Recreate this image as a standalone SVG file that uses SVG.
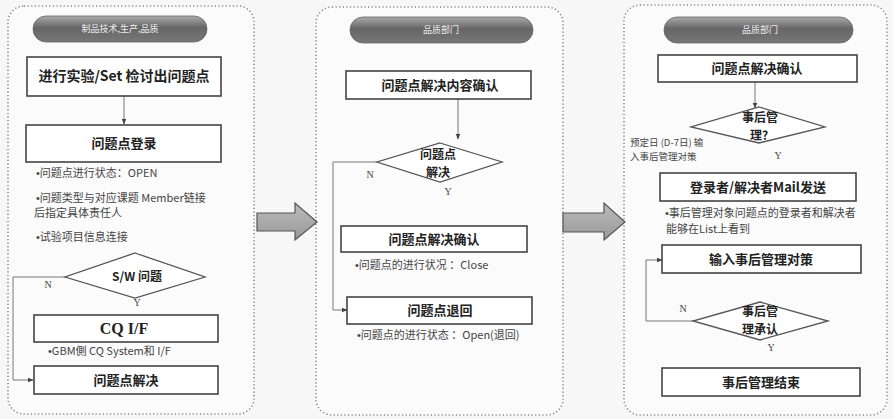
<svg xmlns="http://www.w3.org/2000/svg" width="893" height="419" viewBox="0 0 893 419">
<defs>
<style>
.panel{fill:#fbfbfb;stroke:#888;stroke-width:1.6;stroke-dasharray:1.2 2.4}
.pill{fill:url(#pillg);stroke:#666;stroke-width:0.8}
.ptxt{font-family:"Noto Sans CJK SC",sans-serif;font-size:9px;fill:#eee;text-anchor:middle}
.box{fill:#fff;stroke:#444;stroke-width:1.6}
.btxt{font-family:"Noto Sans CJK SC",sans-serif;font-size:13px;font-weight:bold;fill:#222;text-anchor:middle}
.dia{fill:#fff;stroke:#555;stroke-width:1.3}
.dtxt{font-family:"Noto Sans CJK SC",sans-serif;font-size:12px;font-weight:bold;fill:#222;text-anchor:middle}
.note{font-family:"Noto Sans CJK SC",sans-serif;font-size:11px;fill:#444}
.small{font-size:9.5px}
.bu{font-family:"Liberation Sans",sans-serif}
.lbl{font-family:"Liberation Serif",serif;font-size:10px;fill:#444;text-anchor:middle}
.con{fill:none;stroke:#777;stroke-width:1}
.big{fill:url(#arrg);stroke:#555;stroke-width:1.2}
</style>
<linearGradient id="pillg" x1="0" y1="0" x2="0" y2="1">
<stop offset="0" stop-color="#aaa"/>
<stop offset="0.45" stop-color="#666"/>
<stop offset="1" stop-color="#777"/>
</linearGradient>
<linearGradient id="arrg" x1="0" y1="0" x2="0" y2="1">
<stop offset="0" stop-color="#bbb"/>
<stop offset="1" stop-color="#999"/>
</linearGradient>
<marker id="ah" viewBox="0 0 10 10" refX="9" refY="5" markerWidth="6" markerHeight="6" orient="auto">
<path d="M0,1 L10,5 L0,9 z" fill="#444"/>
</marker>
</defs>
<rect x="0" y="0" width="893" height="419" fill="#f7f7f7"/>

<g id="panel1">
<rect class="panel" x="8" y="6" width="246" height="408" rx="16"/>
<rect class="pill" x="33" y="16" width="174" height="26" rx="13"/>
<text class="ptxt" x="120" y="32">制品技术,生产,品质</text>
</g>
<g id="panel2">
<rect class="panel" x="316" y="7" width="247" height="408" rx="16"/>
<rect class="pill" x="350" y="17" width="183" height="26" rx="13"/>
<text class="ptxt" x="441" y="33">品质部门</text>
</g>
<g id="panel3">
<rect class="panel" x="624" y="5" width="263" height="410" rx="16"/>
<rect class="pill" x="664" y="17" width="189" height="26" rx="13"/>
<text class="ptxt" x="760" y="33">品质部门</text>
</g>

<g id="bigarrows">
<path class="big" d="M257,213 L295,213 L295,203 L317,222 L295,240 L295,231 L257,231 z"/>
<path class="big" d="M563,213 L604,213 L604,203 L625,222 L604,240 L604,232 L563,232 z"/>
</g>

<g id="connectors">
<path class="con" d="M124,96 V124" marker-end="url(#ah)"/>
<path class="con" d="M65,277 H13 V380 H33" marker-end="url(#ah)"/>
<path class="con" d="M458,99 V139" marker-end="url(#ah)"/>
<path class="con" d="M377,162 H333 V310 H347" marker-end="url(#ah)"/>
<path class="con" d="M755,82 V108" marker-end="url(#ah)"/>
<path class="con" d="M693,321 H646 V260 H662" marker-end="url(#ah)"/>
</g>

<g id="n1">
<rect class="box" x="27" y="57" width="194" height="39"/>
<text class="btxt" x="124" y="81" style="font-size:14px">进行实验/Set 检讨出问题点</text>
</g>
<g id="n2">
<rect class="box" x="26" y="125" width="195" height="37"/>
<text class="btxt" x="124" y="148">问题点登录</text>
<text class="note" x="36" y="177"><tspan class="bu">•</tspan>问题点进行状态：OPEN</text>
<text class="note" x="36" y="202"><tspan class="bu">•</tspan>问题类型与对应课题 Member链接</text>
<text class="note" x="34" y="217">后指定具体责任人</text>
<text class="note" x="36" y="241"><tspan class="bu">•</tspan>试验项目信息连接</text>
</g>
<g id="n3">
<polygon class="dia" points="135,253 205,277 135,298 65,277"/>
<text class="dtxt" x="137" y="281">S/W 问题</text>
<text class="lbl" x="48" y="288">N</text>
<text class="lbl" x="137" y="306">Y</text>
</g>
<g id="n4">
<rect class="box" x="34" y="315" width="184" height="27"/>
<text class="btxt" x="124" y="334" style="font-family:'Liberation Serif','Noto Sans CJK SC',serif;font-size:16px">CQ I/F</text>
<text class="note" x="48" y="355"><tspan class="bu">•</tspan>GBM側 CQ System和 I/F</text>
</g>
<g id="n5">
<rect class="box" x="34" y="366" width="184" height="28"/>
<text class="btxt" x="126" y="385">问题点解决</text>
</g>

<g id="n6">
<rect class="box" x="346" y="71" width="185" height="28"/>
<text class="btxt" x="440" y="90">问题点解决内容确认</text>
</g>
<g id="n7">
<polygon class="dia" points="440,143 502,162 440,182 377,162"/>
<text class="dtxt" x="438" y="159">问题点</text>
<text class="dtxt" x="438" y="177">解决</text>
<text class="lbl" x="370" y="178">N</text>
<text class="lbl" x="448" y="195">Y</text>
</g>
<g id="n8">
<rect class="box" x="341" y="226" width="186" height="26"/>
<text class="btxt" x="434" y="244">问题点解决确认</text>
<text class="note" x="355" y="269"><tspan class="bu">•</tspan>问题点的进行状况 ：Close</text>
</g>
<g id="n9">
<rect class="box" x="347" y="297" width="185" height="27"/>
<text class="btxt" x="440" y="315">问题点退回</text>
<text class="note" x="357" y="339"><tspan class="bu">•</tspan>问题点的进行状态 ：Open(退回)</text>
</g>

<g id="n10">
<rect class="box" x="658" y="55" width="199" height="27"/>
<text class="btxt" x="757" y="73">问题点解决确认</text>
</g>
<g id="n11">
<polygon class="dia" points="759,107 825,127 759,143 691,127"/>
<text class="dtxt" x="760" y="122">事后管</text>
<text class="dtxt" x="759" y="140">理?</text>
<text class="note small" x="630" y="146">预定日 (D-7日) 输</text>
<text class="note small" x="630" y="160">入事后管理对策</text>
<text class="lbl" x="778" y="159">Y</text>
</g>
<g id="n12">
<rect class="box" x="660" y="173" width="196" height="28"/>
<text class="btxt" x="758" y="192">登录者/解决者Mail发送</text>
<text class="note" x="665" y="217"><tspan class="bu">•</tspan>事后管理对象问题点的登录者和解决者</text>
<text class="note" x="666" y="233">能够在List上看到</text>
</g>
<g id="n13">
<rect class="box" x="662" y="245" width="199" height="28"/>
<text class="btxt" x="761" y="264">输入事后管理对策</text>
</g>
<g id="n14">
<polygon class="dia" points="760,302 828,321 760,340 693,321"/>
<text class="dtxt" x="760" y="316">事后管</text>
<text class="dtxt" x="760" y="334">理承认</text>
<text class="lbl" x="683" y="312">N</text>
<text class="lbl" x="771" y="351">Y</text>
</g>
<g id="n15">
<rect class="box" x="662" y="368" width="198" height="28"/>
<text class="btxt" x="761" y="387">事后管理结束</text>
</g>
</svg>
